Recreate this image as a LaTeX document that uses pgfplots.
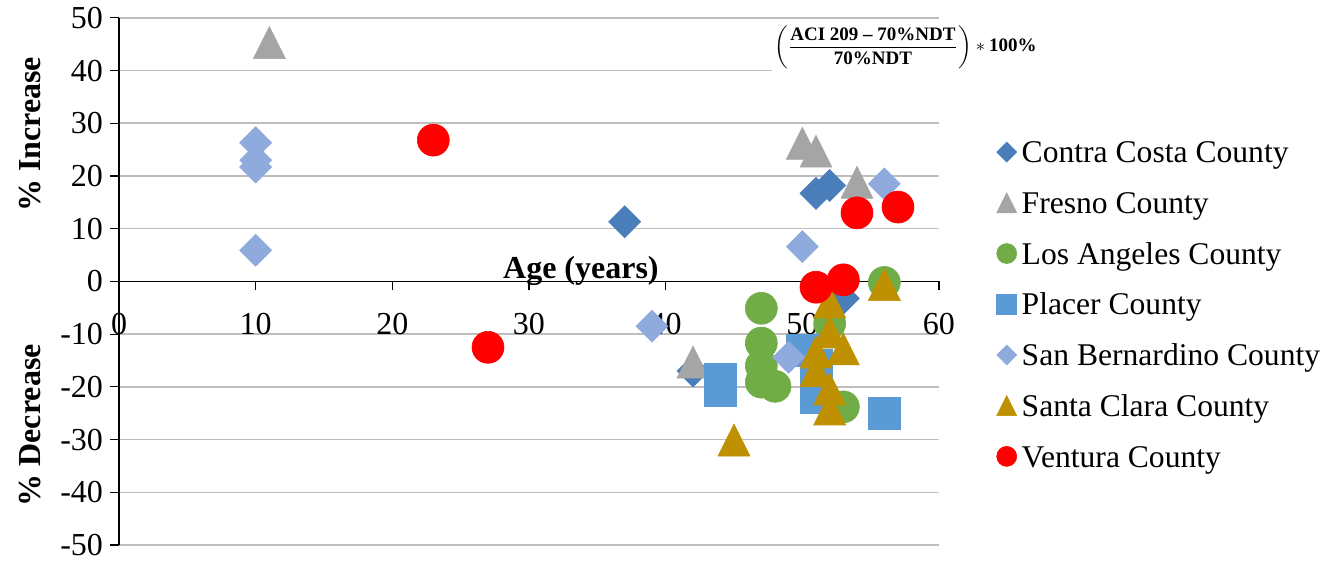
\documentclass[border=0pt]{standalone}
\usepackage{amsmath}
\usepackage{fontspec}
\setmainfont{Liberation Serif}
\usepackage{pgfplots}
\pgfplotsset{compat=1.18}

\definecolor{ccc}{RGB}{74,126,187}
\definecolor{frc}{RGB}{165,165,165}
\definecolor{lac}{RGB}{112,173,71}
\definecolor{plc}{RGB}{91,155,213}
\definecolor{sbc}{RGB}{143,170,220}
\definecolor{scc}{RGB}{191,144,0}
\definecolor{vec}{RGB}{255,0,0}
\definecolor{gridc}{RGB}{190,190,190}

\pgfdeclareplotmark{ediamond}{%
  \pgfpathmoveto{\pgfqpoint{0pt}{\pgfplotmarksize}}%
  \pgfpathlineto{\pgfqpoint{\pgfplotmarksize}{0pt}}%
  \pgfpathlineto{\pgfqpoint{0pt}{-\pgfplotmarksize}}%
  \pgfpathlineto{\pgfqpoint{-\pgfplotmarksize}{0pt}}%
  \pgfpathclose\pgfusepathqfillstroke}
\pgfdeclareplotmark{etri}{%
  \pgfpathmoveto{\pgfqpoint{0pt}{\pgfplotmarksize}}%
  \pgfpathlineto{\pgfqpoint{\pgfplotmarksize}{-\pgfplotmarksize}}%
  \pgfpathlineto{\pgfqpoint{-\pgfplotmarksize}{-\pgfplotmarksize}}%
  \pgfpathclose\pgfusepathqfillstroke}

\begin{document}
\begin{tikzpicture}
\useasboundingbox (0,0) rectangle (669pt,281.5pt);
\begin{axis}[
  at={(59.5pt,9pt)}, anchor=south west,
  scale only axis, width=410pt, height=263.6pt,
  xmin=0, xmax=60, ymin=-50, ymax=50,
  axis x line*=middle, axis y line*=left,
  hide obscured x ticks=false, hide obscured y ticks=false,
  xtick={0,10,...,60}, ytick={-50,-40,...,50},
  tick align=outside, major tick length=4.5pt,
  tick style={black, line width=0.6pt},
  axis line style={black, line width=0.6pt},
  ymajorgrids, grid style={gridc, line width=0.75pt},
  /pgf/number format/assume math mode=true,
  tick label style={font=\fontsize{16}{19}\selectfont},
  xticklabel style={yshift=-8pt},
  clip=false,
  legend style={at={(1.0704,0.777)}, anchor=north west, draw=none, fill=none,
    inner sep=0pt, outer sep=0pt, row sep=8.66pt, column sep=2.5pt,
    font=\fontsize{15.8}{19}\selectfont,
    nodes={inner sep=0pt, text height=13.7pt, text depth=3pt}},
  legend cell align=left,
  legend image code/.code={\draw[#1, mark size=5pt] plot coordinates {(0pt,0pt)};},
]
\addplot[only marks, mark=ediamond, mark size=8pt, draw=ccc, fill=ccc, line width=0.3pt]
  coordinates {(37,11.3) (42,-17) (51,16.7) (52,18.2) (53,-3.2)};
\addlegendentry{Contra Costa County}
\addplot[only marks, mark=etri, mark size=8pt, draw=frc, fill=frc, line width=0.3pt]
  coordinates {(11,45.3) (42,-15.3) (50,26.2) (51,24.7) (54,18.8)};
\addlegendentry{Fresno County}
\addplot[only marks, mark=*, mark size=8pt, draw=lac, fill=lac, line width=0.3pt]
  coordinates {(47,-5.1) (47,-11.7) (47,-16) (47,-19.1) (48,-19.9) (52,-8) (53,-23.8) (56,-0.2)};
\addlegendentry{Los Angeles County}
\addplot[only marks, mark=square*, mark size=8pt, draw=plc, fill=plc, line width=0.3pt]
  coordinates {(44,-18.5) (44,-20.7) (50,-13) (51,-16) (51,-19.5) (51,-22) (56,-25.1)};
\addlegendentry{Placer County}
\addplot[only marks, mark=ediamond, mark size=8pt, draw=sbc, fill=sbc, line width=0.3pt]
  coordinates {(10,26.3) (10,23) (10,21.7) (10,5.9) (39,-8.5) (49,-14.4) (50,6.6) (56,18.5)};
\addlegendentry{San Bernardino County}
\addplot[only marks, mark=etri, mark size=8pt, draw=scc, fill=scc, line width=0.3pt]
  coordinates {(45,-30.1) (51,-13.4) (51,-16.9) (52,-3.9) (52,-9.6) (52,-20.4) (52,-24.2) (53,-12.8) (56,-0.6)};
\addlegendentry{Santa Clara County}
\addplot[only marks, mark=*, mark size=8pt, draw=vec, fill=vec, line width=0.3pt]
  coordinates {(23,26.8) (27,-12.5) (51,-1.1) (53,0.3) (54,13) (57,14.1)};
\addlegendentry{Ventura County}

\node[anchor=base, font=\fontsize{16}{19}\selectfont\bfseries] at (axis cs:33.8,0.6) {Age (years)};
\node[rotate=90, font=\fontsize{16}{19}\selectfont\bfseries] at (axis cs:-6.5,27.9) {\% Increase};
\node[rotate=90, font=\fontsize{16}{19}\selectfont\bfseries] at (axis cs:-6.5,-27.3) {\% Decrease};
\node[fill=white, inner sep=1pt, font=\fontsize{9.5}{11}\selectfont] at (axis cs:57.55,44.4)
  {$\left(\dfrac{\textbf{ACI 209 -- 70\%NDT}}{\textbf{70\%NDT}}\right)*\textbf{100\%}$};
\end{axis}
\end{tikzpicture}
\end{document}
